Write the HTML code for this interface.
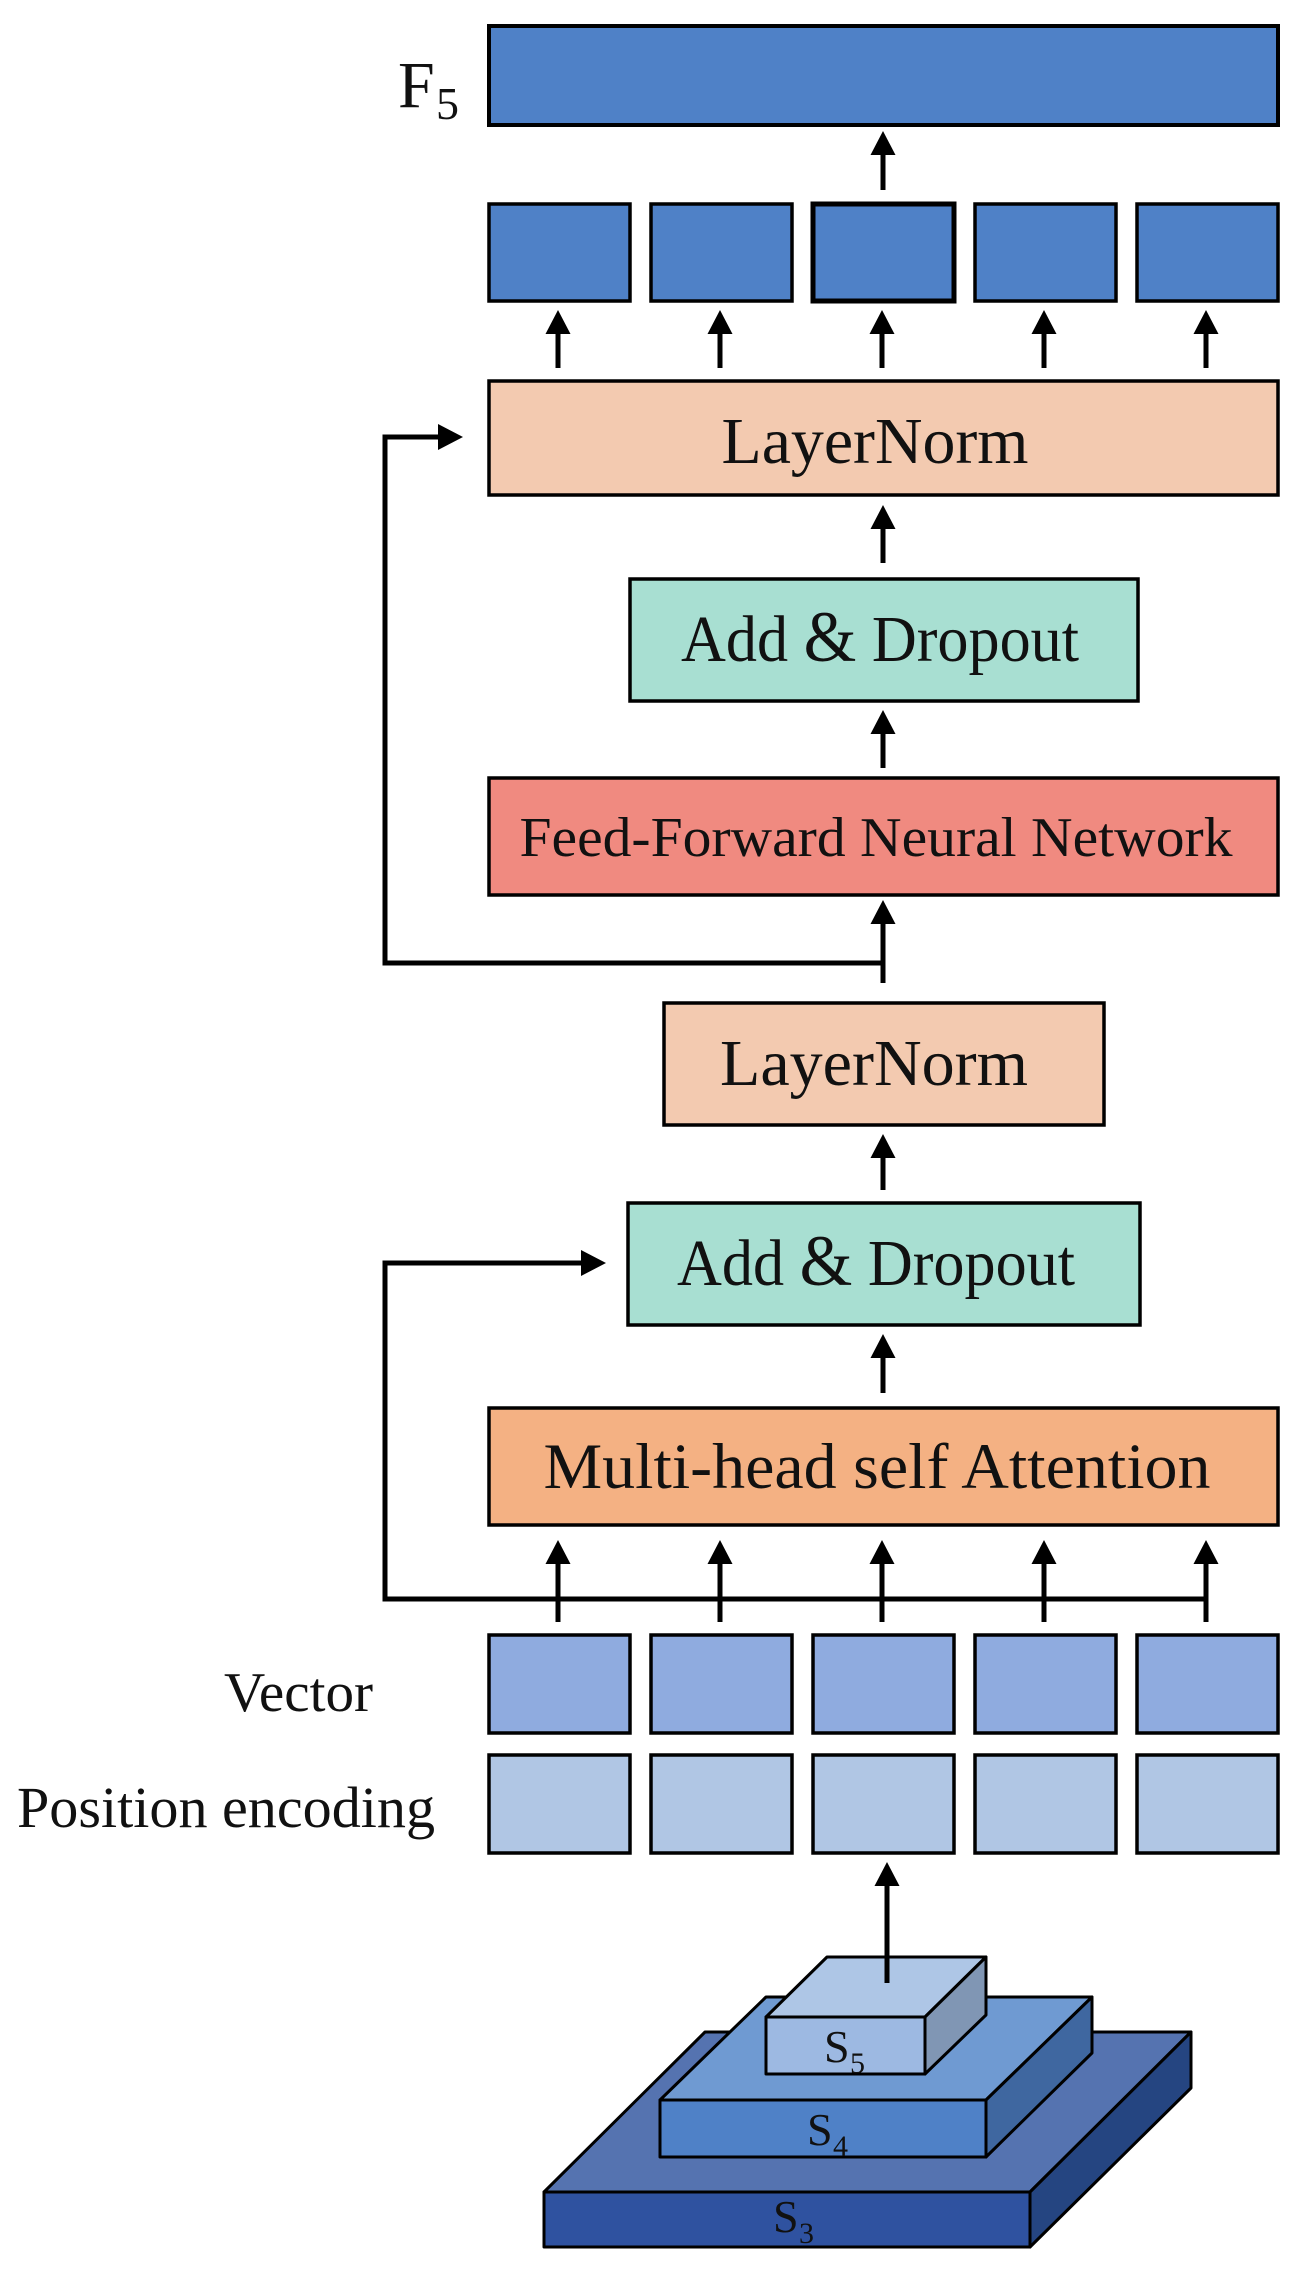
<!DOCTYPE html>
<html><head><meta charset="utf-8"><style>
html,body{margin:0;padding:0;background:#fff;}
svg{display:block;}
text{font-family:"Liberation Serif",serif;fill:#111;}
</style></head><body>
<svg width="1301" height="2274" viewBox="0 0 1301 2274" xmlns="http://www.w3.org/2000/svg">
<defs>
<g id="ah"><polygon points="0,0 -12.5,24 12.5,24" fill="#000"/></g>
</defs>
<rect x="489" y="26" width="789" height="99" fill="#4F81C7" stroke="#000" stroke-width="4"/>
<text x="398" y="107" font-size="66">F</text>
<text x="436" y="119" font-size="46">5</text>
<line x1="883" y1="190" x2="883" y2="150" stroke="#000" stroke-width="5"/>
<use href="#ah" x="883" y="131"/>
<g fill="#4F81C7" stroke="#000" stroke-width="3.5">
<rect x="489" y="204" width="141" height="97"/>
<rect x="651" y="204" width="141" height="97"/>
<rect x="813" y="204" width="141" height="97" stroke-width="5"/>
<rect x="975" y="204" width="141" height="97"/>
<rect x="1137" y="204" width="141" height="97"/>
</g>
<g stroke="#000" stroke-width="5">
<line x1="558" y1="368" x2="558" y2="330"/><line x1="720" y1="368" x2="720" y2="330"/><line x1="882" y1="368" x2="882" y2="330"/><line x1="1044" y1="368" x2="1044" y2="330"/><line x1="1206" y1="368" x2="1206" y2="330"/>
</g>
<use href="#ah" x="558" y="310"/><use href="#ah" x="720" y="310"/><use href="#ah" x="882" y="310"/><use href="#ah" x="1044" y="310"/><use href="#ah" x="1206" y="310"/>
<rect x="489" y="381" width="789" height="114" fill="#F3CAB0" stroke="#000" stroke-width="3.5"/>
<text x="875" y="463" font-size="66" text-anchor="middle" textLength="307" lengthAdjust="spacingAndGlyphs">LayerNorm</text>
<line x1="883" y1="563" x2="883" y2="525" stroke="#000" stroke-width="5"/>
<use href="#ah" x="883" y="505"/>
<rect x="630" y="579" width="508" height="122" fill="#A8DFD2" stroke="#000" stroke-width="3.5"/>
<text x="880" y="661" font-size="66" text-anchor="middle" textLength="398" lengthAdjust="spacingAndGlyphs">Add <tspan font-size="72">&amp;</tspan> Dropout</text>
<line x1="883" y1="768" x2="883" y2="730" stroke="#000" stroke-width="5"/>
<use href="#ah" x="883" y="710"/>
<rect x="489" y="778" width="789" height="117" fill="#F08A80" stroke="#000" stroke-width="3.5"/>
<text x="876" y="856" font-size="56" text-anchor="middle" textLength="713" lengthAdjust="spacingAndGlyphs">Feed-Forward Neural Network</text>
<polyline points="883,983 883,963 385,963 385,437 445,437" fill="none" stroke="#000" stroke-width="5"/>
<polygon points="463,437 438,424 438,450" fill="#000"/>
<line x1="883" y1="963" x2="883" y2="920" stroke="#000" stroke-width="5"/>
<use href="#ah" x="883" y="900"/>
<rect x="664" y="1003" width="440" height="122" fill="#F3CAB0" stroke="#000" stroke-width="3.5"/>
<text x="874" y="1085" font-size="66" text-anchor="middle" textLength="308" lengthAdjust="spacingAndGlyphs">LayerNorm</text>
<line x1="883" y1="1190" x2="883" y2="1154" stroke="#000" stroke-width="5"/>
<use href="#ah" x="883" y="1134"/>
<rect x="628" y="1203" width="512" height="122" fill="#A8DFD2" stroke="#000" stroke-width="3.5"/>
<text x="876" y="1285" font-size="66" text-anchor="middle" textLength="398" lengthAdjust="spacingAndGlyphs">Add <tspan font-size="72">&amp;</tspan> Dropout</text>
<line x1="883" y1="1393" x2="883" y2="1354" stroke="#000" stroke-width="5"/>
<use href="#ah" x="883" y="1334"/>
<rect x="489" y="1408" width="789" height="117" fill="#F4B183" stroke="#000" stroke-width="3.5"/>
<text x="877" y="1488" font-size="65" text-anchor="middle" textLength="667" lengthAdjust="spacingAndGlyphs">Multi-head self Attention</text>
<polyline points="1206,1599 385,1599 385,1263 585,1263" fill="none" stroke="#000" stroke-width="5"/>
<polygon points="606,1263 581,1250 581,1276" fill="#000"/>
<g stroke="#000" stroke-width="5">
<line x1="558" y1="1622" x2="558" y2="1560"/><line x1="720" y1="1622" x2="720" y2="1560"/><line x1="882" y1="1622" x2="882" y2="1560"/><line x1="1044" y1="1622" x2="1044" y2="1560"/><line x1="1206" y1="1622" x2="1206" y2="1560"/>
</g>
<use href="#ah" x="558" y="1540"/><use href="#ah" x="720" y="1540"/><use href="#ah" x="882" y="1540"/><use href="#ah" x="1044" y="1540"/><use href="#ah" x="1206" y="1540"/>
<g fill="#8FABDF" stroke="#000" stroke-width="3.5">
<rect x="489" y="1635" width="141" height="98"/><rect x="651" y="1635" width="141" height="98"/><rect x="813" y="1635" width="141" height="98"/><rect x="975" y="1635" width="141" height="98"/><rect x="1137" y="1635" width="141" height="98"/>
</g>
<g fill="#B0C6E4" stroke="#000" stroke-width="3.5">
<rect x="489" y="1755" width="141" height="98"/><rect x="651" y="1755" width="141" height="98"/><rect x="813" y="1755" width="141" height="98"/><rect x="975" y="1755" width="141" height="98"/><rect x="1137" y="1755" width="141" height="98"/>
</g>
<text x="224" y="1711" font-size="56" textLength="149" lengthAdjust="spacingAndGlyphs">Vector</text>
<text x="17" y="1827" font-size="58" textLength="418" lengthAdjust="spacingAndGlyphs">Position encoding</text>
<g stroke="#000" stroke-width="3" stroke-linejoin="round">
<polygon points="544,2192 705,2032 1191,2032 1030,2192" fill="#5573B0"/>
<polygon points="1030,2192 1191,2032 1191,2088 1030,2247" fill="#254581"/>
<rect x="544" y="2192" width="486" height="55" fill="#2F52A0"/>
<polygon points="660,2100 766,1997 1092,1997 986,2100" fill="#6F9AD2"/>
<polygon points="986,2100 1092,1997 1092,2053 986,2157" fill="#3F67A0"/>
<rect x="660" y="2100" width="326" height="57" fill="#4F81C7"/>
<polygon points="766,2017 827,1957 986,1957 925,2017" fill="#AEC6E6"/>
<polygon points="925,2017 986,1957 986,2015 925,2074" fill="#8096B4"/>
<rect x="766" y="2017" width="159" height="57" fill="#9DB9E2"/>
</g>
<text x="773" y="2232" font-size="46">S</text><text x="799" y="2243" font-size="30">3</text>
<text x="807" y="2145" font-size="46">S</text><text x="833" y="2156" font-size="30">4</text>
<text x="824" y="2062" font-size="46">S</text><text x="850" y="2073" font-size="30">5</text>
<line x1="887" y1="1983" x2="887" y2="1880" stroke="#000" stroke-width="5"/>
<use href="#ah" x="887" y="1862"/>
</svg>
</body></html>
